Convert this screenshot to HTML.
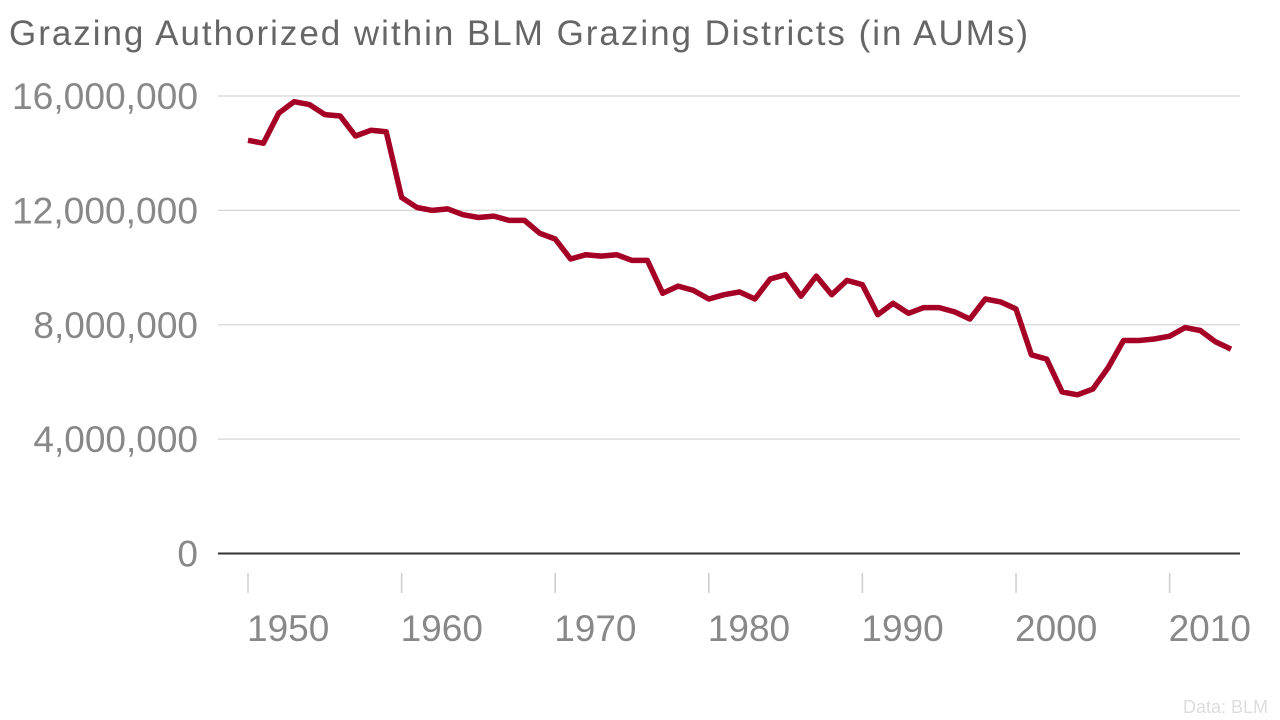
<!DOCTYPE html>
<html><head><meta charset="utf-8"><style>
html,body{margin:0;padding:0;background:#fff;width:1280px;height:720px;overflow:hidden}
svg text{font-family:"Liberation Sans",sans-serif}
</style></head><body>
<svg id="chart" width="1280" height="720">
<text x="9" y="45" font-size="35" fill="#666" textLength="1019" lengthAdjust="spacing">Grazing Authorized within BLM Grazing Districts (in AUMs)</text>
<g id="grid"></g><g id="xaxis"></g>
<path id="line" fill="none" stroke="#a50026" stroke-width="5.5" stroke-linejoin="round"/>
<text x="1268" y="713" font-size="18" fill="#ddd" text-anchor="end">Data: BLM</text>
</svg>
<script>
const years=[];for(let y=1950;y<=2014;y++)years.push(y);
const values=[14.45,14.35,15.4,15.8,15.7,15.35,15.3,14.6,14.8,14.75,12.45,12.1,12.0,12.05,11.85,11.75,11.8,11.65,11.65,11.2,11.0,10.3,10.45,10.4,10.45,10.25,10.25,9.1,9.35,9.2,8.9,9.05,9.15,8.9,9.6,9.75,9.0,9.7,9.05,9.55,9.4,8.35,8.75,8.4,8.6,8.6,8.45,8.2,8.9,8.8,8.55,6.95,6.8,5.65,5.55,5.75,6.5,7.45,7.45,7.5,7.6,7.9,7.8,7.4,7.15].map(v=>v*1e6);
const yTicks=[0,4e6,8e6,12e6,16e6];
const yTickLabels=["0","4,000,000","8,000,000","12,000,000","16,000,000"];
const xTicks=[1950,1960,1970,1980,1990,2000,2010];
const ns="http://www.w3.org/2000/svg";
const xs=y=>248+(y-1950)*15.36;
const ys=v=>553.5-v/16e6*457.5;
const grid=document.getElementById('grid'),xa=document.getElementById('xaxis');
yTicks.forEach((t,i)=>{
 const l=document.createElementNS(ns,'line');
 l.setAttribute('x1',218);l.setAttribute('x2',1240);l.setAttribute('y1',ys(t));l.setAttribute('y2',ys(t));
 l.setAttribute('stroke',t===0?'#333':'#d6d6d6');l.setAttribute('stroke-width',t===0?2:1.2);
 
 
 grid.appendChild(l);
 const tx=document.createElementNS(ns,'text');
 tx.setAttribute('x',198);tx.setAttribute('y',ys(t)+13);tx.setAttribute('text-anchor','end');
 tx.setAttribute('font-size','37');tx.setAttribute('fill','#888');tx.textContent=yTickLabels[i];
 if(yTickLabels[i].length===10){tx.setAttribute('textLength','186');tx.setAttribute('lengthAdjust','spacingAndGlyphs');}
 
 
 grid.appendChild(tx);
});
xTicks.forEach(t=>{
 const l=document.createElementNS(ns,'line');
 l.setAttribute('x1',xs(t));l.setAttribute('x2',xs(t));l.setAttribute('y1',573);l.setAttribute('y2',593);
 l.setAttribute('stroke','#ccc');l.setAttribute('stroke-width',1.5);
 
 
 xa.appendChild(l);
 const tx=document.createElementNS(ns,'text');
 tx.setAttribute('x',xs(t)-1);tx.setAttribute('y',641);
 tx.setAttribute('font-size','37');tx.setAttribute('fill','#888');tx.textContent=t;
 
 
 xa.appendChild(tx);
});
document.getElementById('line').setAttribute('d',values.map((v,i)=>(i?'L':'M')+xs(years[i]).toFixed(1)+','+ys(v).toFixed(1)).join(''));
</script>
</body></html>
